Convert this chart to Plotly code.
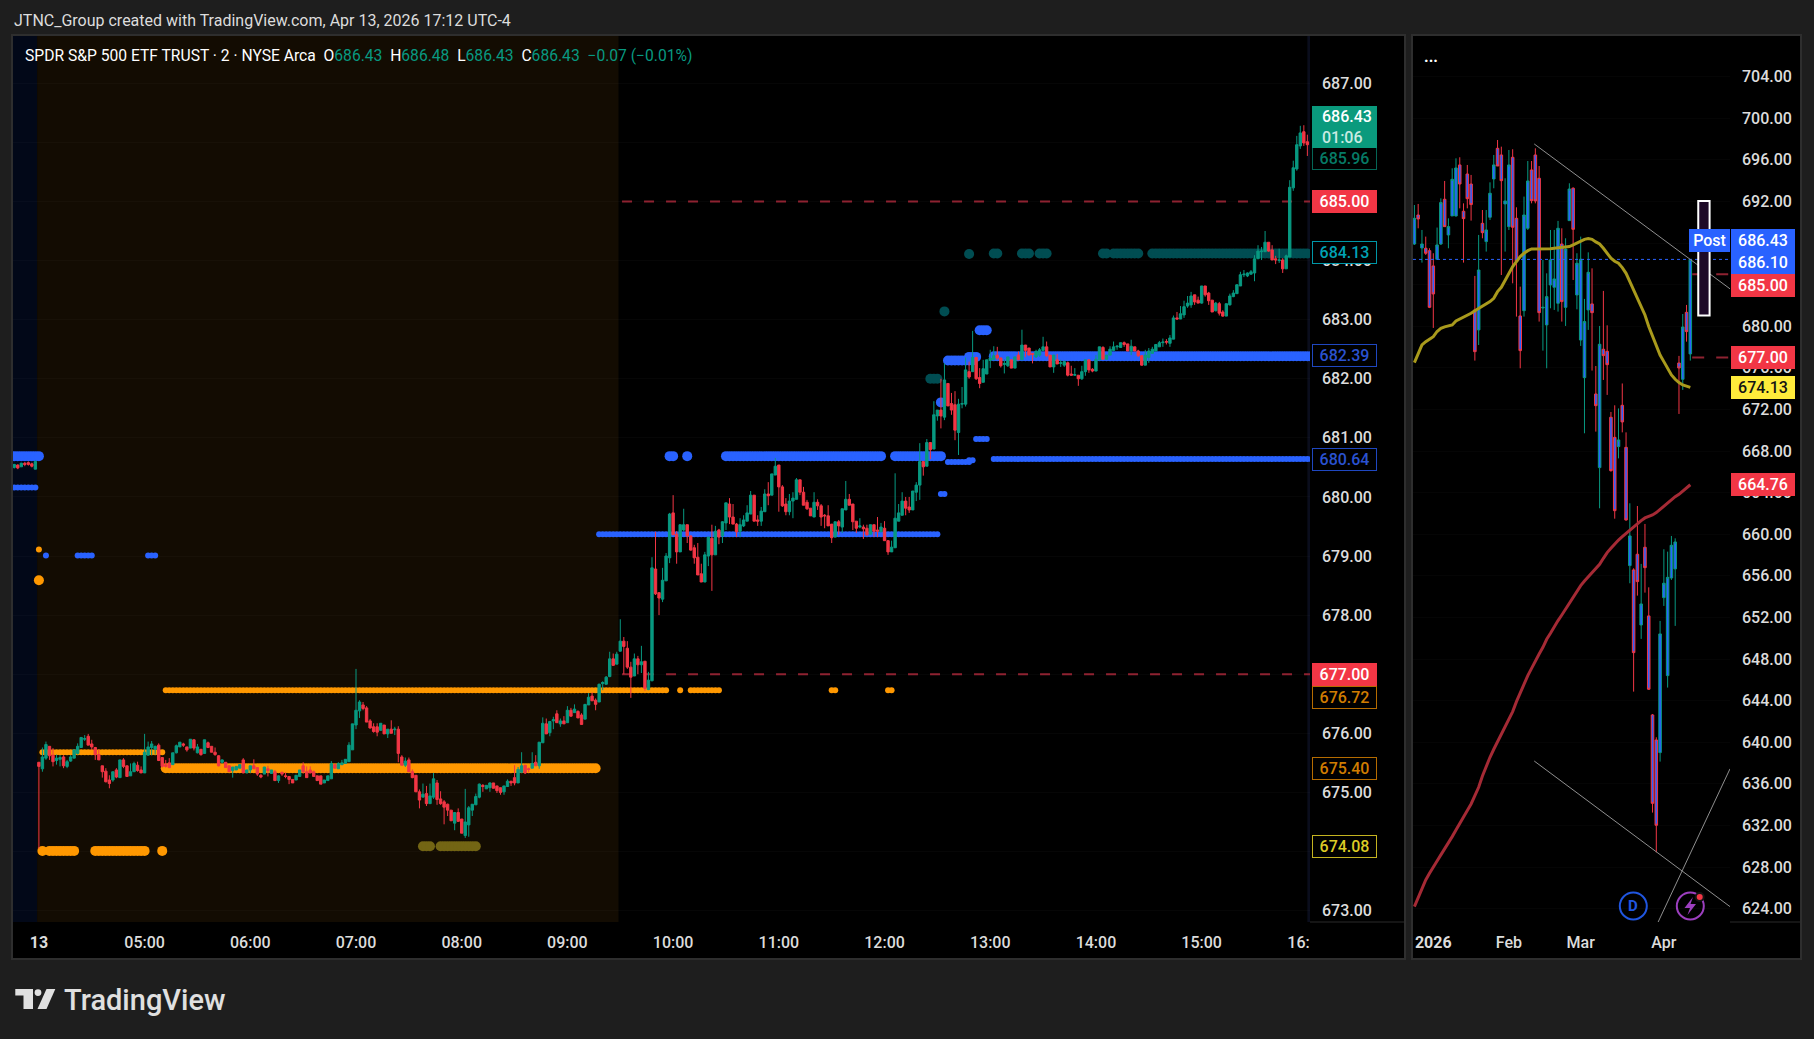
import pandas as pd
import plotly.graph_objects as go

# ---------- intraday SPY, 2-minute bars; bar 0 = 04:00, first value is bar -7 ----------
FIRST_BAR = -7
OPEN = [680.50,680.54,680.51,680.57,680.58,680.56,680.47,
675.51,675.40,675.58,675.78,675.63,675.54,675.56,675.60,675.44,675.53,
675.58,675.66,675.76,675.90,675.95,675.82,675.76,675.64,675.45,675.36,
675.21,675.21,675.38,675.25,675.55,675.45,675.28,675.35,675.46,675.38,
675.33,675.63,675.76,675.73,675.80,675.59,675.47,675.50,675.47,675.67,
675.77,675.82,675.77,675.75,675.89,675.67,675.73,675.66,675.84,675.78,
675.68,675.62,675.51,675.51,675.45,675.37,675.38,675.41,675.55,675.33,
675.38,675.45,675.42,675.29,675.31,675.40,675.32,675.35,675.20,675.34,
675.28,675.27,675.22,675.21,675.27,675.45,675.35,675.38,675.35,675.28,
675.28,675.16,675.20,675.23,675.47,675.40,675.47,675.49,675.52,675.72,
676.14,676.38,676.48,676.43,676.21,676.11,676.11,676.05,676.14,675.99,
676.07,676.06,676.07,675.60,675.46,675.55,675.35,675.29,675.01,674.92,
674.98,674.81,674.92,675.16,674.89,674.84,674.80,674.70,674.48,674.66,
674.55,674.27,674.45,674.70,674.79,674.92,675.12,675.06,675.08,675.16,
675.11,675.08,675.01,675.10,675.19,675.25,675.16,675.34,675.46,675.40,
675.41,675.51,675.45,675.84,676.16,676.01,676.21,676.33,676.16,676.21,
676.18,676.39,676.35,676.37,676.31,676.24,676.48,676.63,676.56,676.53,
676.84,676.83,676.96,677.26,677.17,677.39,677.56,677.44,677.12,676.97,
677.26,677.16,677.22,676.74,676.89,678.78,678.38,678.27,678.58,678.97,
679.73,679.37,679.07,679.44,679.53,679.34,679.14,678.98,678.70,678.56,
679.00,679.30,679.02,679.44,679.34,679.56,679.88,679.66,679.54,679.42,
679.51,679.59,679.71,680.03,679.61,679.59,679.75,680.05,680.03,680.37,
680.54,680.17,679.88,679.75,679.93,679.96,680.29,680.08,679.91,679.81,
679.66,679.91,679.85,679.69,679.68,679.54,679.32,679.58,679.49,679.78,
679.96,679.88,679.59,679.49,679.49,679.47,679.37,679.53,679.44,679.41,
679.47,679.26,679.07,679.14,679.59,679.69,679.93,679.83,679.78,680.08,
680.20,680.60,680.52,680.92,680.81,681.37,681.47,681.35,681.92,681.58,
681.56,681.09,681.57,681.57,682.12,682.12,682.36,682.02,681.94,682.08,
682.31,682.32,682.40,682.35,682.24,682.22,682.32,682.18,682.40,682.32,
682.57,682.52,682.43,682.37,682.40,682.48,682.54,682.40,682.20,682.32,
682.26,682.23,682.27,682.08,682.06,682.06,682.00,682.12,682.32,682.16,
682.13,682.32,682.53,682.33,682.40,682.48,682.54,682.53,682.61,682.59,
682.47,682.54,682.47,682.39,682.23,682.36,682.43,682.47,682.54,682.61,
682.63,682.60,682.67,683.03,683.01,683.08,683.23,683.25,683.42,683.33,
683.28,683.57,683.45,683.33,683.15,683.27,683.13,683.06,683.25,683.39,
683.44,683.57,683.76,683.74,683.77,683.79,684.03,684.15,684.15,684.31,
684.18,684.03,684.00,684.01,683.86,684.06,685.23,685.55,685.94,686.18,686.01]
HIGH = [680.56,680.55,680.58,680.59,680.60,680.58,680.62,
675.51,675.76,675.86,675.78,675.75,675.64,675.63,675.63,675.55,675.63,
675.72,675.83,675.93,675.97,675.99,675.89,675.77,675.73,675.45,675.41,
675.29,675.35,675.41,675.55,675.58,675.45,675.49,675.52,675.52,675.44,
675.99,675.86,675.87,675.79,675.83,675.60,675.55,675.58,675.67,675.81,
675.85,675.84,675.77,675.90,675.90,675.82,675.73,675.89,675.86,675.78,
675.76,675.63,675.56,675.51,675.45,675.43,675.44,675.47,675.58,675.38,
675.45,675.56,675.42,675.31,675.43,675.45,675.38,675.38,675.29,675.35,
675.34,675.27,675.22,675.29,675.38,675.51,675.44,675.44,675.37,675.28,
675.28,675.21,675.28,675.53,675.47,675.51,675.55,675.56,675.85,676.16,
677.09,676.56,676.53,676.46,676.24,676.17,676.17,676.17,676.14,676.07,
676.22,676.11,676.12,675.63,675.59,675.59,675.39,675.29,675.05,675.15,
675.11,675.15,675.33,675.21,675.02,674.87,674.81,674.70,674.66,674.73,
674.55,675.06,674.77,674.80,674.98,675.15,675.14,675.12,675.17,675.16,
675.11,675.08,675.11,675.22,675.19,675.46,675.43,675.68,675.46,675.42,
675.68,675.63,675.85,676.27,676.25,676.21,676.28,676.39,676.25,676.29,
676.46,676.43,676.49,676.39,676.34,676.49,676.68,676.69,676.59,676.84,
676.88,676.97,677.38,677.35,677.38,677.93,677.63,677.56,677.21,677.35,
677.31,677.48,677.22,677.04,678.98,679.41,678.38,678.80,679.05,679.73,
680.03,679.42,679.53,679.80,679.53,679.35,679.19,679.22,678.87,679.07,
679.32,679.53,679.51,679.46,679.59,679.90,679.98,679.88,679.56,679.64,
679.69,679.86,680.10,680.03,679.69,679.83,680.13,680.25,680.39,680.66,
680.54,680.20,679.98,680.05,680.08,680.32,680.29,680.17,679.95,679.81,
680.08,679.96,679.88,679.71,679.86,679.54,679.58,679.61,679.80,680.27,
680.05,679.88,679.59,679.64,679.53,679.53,679.53,679.53,679.66,679.56,
679.59,679.27,679.26,680.40,679.88,680.08,680.00,680.00,680.10,680.25,
680.91,680.60,680.98,680.92,681.62,681.47,682.00,682.26,681.92,681.76,
681.79,681.66,681.86,682.36,682.29,682.81,682.37,682.18,682.32,682.32,
682.49,682.55,682.54,682.36,682.33,682.37,682.32,682.37,682.46,682.83,
682.57,682.52,682.43,682.49,682.52,682.71,682.63,682.40,682.40,682.42,
682.32,682.31,682.29,682.22,682.18,682.06,682.22,682.32,682.32,682.18,
682.40,682.54,682.55,682.40,682.55,682.63,682.57,682.61,682.63,682.59,
682.66,682.54,682.49,682.40,682.49,682.52,682.54,682.58,682.64,682.68,
682.67,682.74,683.07,683.13,683.23,683.32,683.40,683.47,683.42,683.39,
683.57,683.57,683.47,683.33,683.30,683.30,683.16,683.27,683.44,683.50,
683.60,683.81,683.84,683.80,683.84,684.09,684.26,684.23,684.50,684.31,
684.26,684.08,684.20,684.04,684.10,685.36,685.69,686.11,686.28,686.29,686.13]
LOW = [680.48,680.47,680.51,680.52,680.53,680.50,680.47,
674.05,675.35,675.55,675.55,675.44,675.47,675.44,675.41,675.41,675.52,
675.58,675.64,675.76,675.87,675.80,675.72,675.55,675.55,675.25,675.17,
675.07,675.18,675.24,675.25,675.41,675.27,675.28,675.35,675.35,675.33,
675.33,675.63,675.63,675.64,675.53,675.42,675.42,675.41,675.47,675.66,
675.77,675.77,675.69,675.75,675.71,675.66,675.62,675.66,675.75,675.68,
675.62,675.44,675.49,675.42,675.35,675.25,675.38,675.41,675.33,675.33,
675.33,675.40,675.28,675.24,675.31,675.27,675.32,675.20,675.16,675.28,
675.24,675.14,675.16,675.21,675.27,675.32,675.25,675.33,675.27,675.20,
675.14,675.16,675.20,675.23,675.41,675.40,675.46,675.49,675.52,675.72,
676.07,676.26,676.39,676.19,676.08,676.01,675.95,676.05,675.99,675.92,
676.00,675.97,675.51,675.46,675.43,675.35,675.24,675.01,674.73,674.92,
674.77,674.81,674.89,674.79,674.79,674.46,674.60,674.52,674.36,674.50,
674.31,674.23,674.25,674.60,674.79,674.90,675.01,675.06,675.01,675.07,
674.99,674.96,674.96,675.10,675.11,675.12,675.16,675.34,675.31,675.34,
675.41,675.45,675.40,675.84,675.99,675.95,676.07,676.18,676.11,676.16,
676.18,676.28,676.35,676.26,676.15,676.24,676.48,676.55,676.39,676.53,
676.73,676.83,676.95,677.14,677.17,677.38,677.00,677.09,676.60,676.97,
677.00,677.02,676.72,676.73,676.88,678.34,678.00,678.22,678.58,678.88,
679.36,678.87,679.07,679.42,679.22,679.09,678.87,678.68,678.56,678.56,
678.83,678.41,679.02,679.20,679.22,679.44,679.54,679.54,679.32,679.32,
679.49,679.59,679.71,679.59,679.51,679.51,679.75,679.86,680.03,680.37,
679.75,679.83,679.69,679.69,679.64,679.96,680.03,679.86,679.78,679.68,
679.66,679.78,679.51,679.47,679.51,679.22,679.32,679.36,679.39,679.78,
679.86,679.44,679.39,679.47,679.29,679.34,679.37,679.32,679.32,679.41,
679.26,679.02,679.07,679.14,679.59,679.69,679.69,679.73,679.78,679.93,
679.95,680.36,680.52,680.64,680.81,681.29,681.16,681.30,681.54,681.39,
680.96,680.71,681.50,681.53,682.00,682.12,681.98,681.84,681.94,682.08,
682.18,682.32,682.32,682.19,682.09,682.20,682.18,682.18,682.32,682.32,
682.37,682.40,682.26,682.35,682.37,682.48,682.37,682.20,682.10,682.25,
682.20,682.20,682.04,682.05,682.05,681.88,681.98,682.05,682.10,682.11,
682.13,682.32,682.33,682.33,682.40,682.48,682.49,682.53,682.54,682.47,
682.40,682.47,682.37,682.22,682.23,682.27,682.43,682.47,682.54,682.54,
682.58,682.54,682.67,683.00,683.01,683.03,683.20,683.20,683.25,683.28,
683.27,683.39,683.25,683.13,683.14,683.07,683.05,683.06,683.24,683.38,
683.44,683.57,683.72,683.72,683.76,683.65,684.03,684.01,684.15,684.15,
684.01,683.94,683.96,683.79,683.86,684.06,685.18,685.52,685.89,685.94,685.77]
CLOSE = [680.55,680.49,680.57,680.55,680.55,680.52,680.60,
675.44,675.60,675.81,675.62,675.52,675.58,675.59,675.45,675.52,675.60,
675.72,675.78,675.93,675.91,675.80,675.77,675.64,675.55,675.35,675.18,
675.15,675.35,675.26,675.55,675.44,675.27,675.35,675.49,675.37,675.33,
675.68,675.77,675.82,675.78,675.54,675.44,675.44,675.42,675.67,675.79,
675.85,675.80,675.72,675.90,675.75,675.77,675.64,675.89,675.76,675.68,
675.64,675.45,675.55,675.42,675.35,675.43,675.44,675.47,675.33,675.38,
675.45,675.40,675.31,675.26,675.43,675.37,675.38,675.20,675.28,675.31,
675.27,675.22,675.16,675.29,675.38,675.35,675.25,675.33,675.27,675.20,
675.14,675.21,675.28,675.49,675.41,675.49,675.50,675.56,675.80,676.16,
676.39,676.53,676.42,676.19,676.09,676.03,676.02,676.17,675.99,676.07,
676.00,676.07,675.66,675.46,675.53,675.35,675.25,675.01,674.87,674.97,
674.81,674.94,675.23,674.88,674.81,674.75,674.70,674.52,674.66,674.51,
674.31,674.50,674.74,674.80,674.93,675.14,675.10,675.12,675.16,675.07,
675.03,675.00,675.11,675.19,675.16,675.16,675.39,675.45,675.33,675.39,
675.49,675.45,675.85,676.17,675.99,676.20,676.23,676.18,676.21,676.16,
676.39,676.29,676.41,676.26,676.15,676.49,676.61,676.55,676.49,676.83,
676.86,676.95,677.26,677.15,677.34,677.56,677.47,677.12,676.95,677.26,
677.16,677.21,676.76,676.90,678.80,678.36,678.29,678.59,679.00,679.71,
679.36,679.07,679.53,679.53,679.34,679.10,678.97,678.68,678.56,679.02,
679.32,679.02,679.42,679.32,679.58,679.90,679.66,679.54,679.41,679.53,
679.61,679.73,680.03,679.59,679.59,679.76,680.05,680.02,680.39,680.52,
680.17,679.85,679.75,679.93,679.98,680.29,680.08,679.86,679.80,679.68,
679.91,679.85,679.66,679.68,679.51,679.31,679.58,679.51,679.80,679.96,
679.86,679.58,679.47,679.51,679.46,679.36,679.53,679.42,679.42,679.49,
679.26,679.07,679.15,679.64,679.73,679.93,679.81,679.78,680.10,680.20,
680.60,680.51,680.92,680.80,681.39,681.47,681.37,681.98,681.54,681.47,
681.13,681.57,681.58,682.15,682.03,682.36,682.00,681.92,682.17,682.32,
682.35,682.39,682.35,682.22,682.26,682.37,682.18,682.37,682.32,682.57,
682.48,682.40,682.41,682.46,682.49,682.54,682.39,682.20,682.40,682.25,
682.27,682.29,682.06,682.06,682.07,682.00,682.12,682.32,682.15,682.13,
682.33,682.54,682.33,682.40,682.50,682.54,682.55,682.61,682.58,682.47,
682.55,682.47,682.39,682.23,682.40,682.47,682.50,682.58,682.61,682.62,
682.62,682.69,683.03,683.01,683.10,683.22,683.28,683.40,683.30,683.28,
683.57,683.42,683.32,683.13,683.28,683.11,683.06,683.27,683.40,683.45,
683.59,683.76,683.77,683.79,683.81,684.03,684.16,684.16,684.31,684.16,
684.01,684.01,684.01,683.86,684.08,685.24,685.57,685.96,686.16,685.99,685.96]

# indicator dot rows: (first bar, last bar, price)
ORANGE_THICK = [(36,158,675.41),(1,1,674.01),(3,10,674.01),(16,30,674.01),(35,35,674.01),(0,0,678.59)]
ORANGE_THIN = [(36,178,676.73),(182,182,676.73),(185,193,676.73),(225,226,676.73),(241,242,676.73),(1,35,675.68),(0,0,679.11)]
BLUE_THICK = [(-7,0,680.69),(179,180,680.69),(184,184,680.69),(195,239,680.69),(243,256,680.69),
              (267,269,682.82),(258,265,682.31),(264,266,682.37),(271,361,682.38),(256,256,681.60)]
BLUE_THIN = [(271,361,680.64),(258,264,680.59),(264,265,680.62),(266,269,680.98),(256,257,680.05),
             (159,255,679.37),(2,2,679.01),(11,15,679.01),(31,33,679.01),(-7,-1,680.16)]
TEAL_THICK = [(253,255,682.00),(257,257,683.14),(264,264,684.11),(271,272,684.12),(279,281,684.12),
              (284,286,684.12),(302,303,684.12),(305,312,684.12),(316,360,684.12)]
OLIVE_THICK = [(109,111,674.09),(114,124,674.09)]
DASHED_LEVELS = [685.0, 677.0]

LEFT_TICKS = [673,674,675,676,677,678,679,680,681,682,683,684,685,686,687]
LEFT_TIME_TICKS = ["04:00","05:00","06:00","07:00","08:00","09:00","10:00","11:00","12:00","13:00","14:00","15:00","15:55"]
LEFT_TIME_TEXT = ["<b>13</b>","05:00","06:00","07:00","08:00","09:00","10:00","11:00","12:00","13:00","14:00","15:00","16:"]

# ---------- daily SPY ----------
D_OPEN = [687.91,690.70,687.53,687.50,687.27,685.80,686.44,687.91,692.21,688.78,690.61,690.61,695.51,691.06,694.64,693.68,681.57,679.65,689.90,688.14,690.48,694.16,697.11,696.47,691.76,689.58,696.25,690.38,680.99,681.50,689.42,695.03,696.47,694.23,681.76,680.13,683.97,683.75,682.21,687.91,681.82,690.16,693.27,683.01,678.68,675.06,681.57,682.15,673.49,666.41,677.79,677.59,671.25,669.32,668.43,672.40,668.36,656.99,656.57,658.08,651.28,658.75,652.15,642.63,640.22,639.01,653.91,646.41,655.80,656.67,676.47,674.90,681.34,677.34]
D_HIGH = [691.66,691.76,689.26,688.62,687.50,687.02,689.49,692.30,693.97,690.38,695.19,696.15,696.25,691.82,695.51,694.55,684.84,688.78,691.18,691.18,693.84,696.47,697.91,697.27,694.23,696.95,697.02,691.44,683.81,692.47,695.89,695.89,697.11,695.41,686.38,685.09,689.26,689.26,690.13,689.42,688.46,693.75,693.36,687.02,688.62,682.63,687.11,685.57,676.18,680.03,683.40,680.09,671.76,672.40,672.10,674.50,669.80,662.98,656.73,662.72,657.15,660.99,654.90,642.72,640.48,651.67,658.56,658.33,659.84,659.61,677.15,681.18,682.05,686.44]
D_LOW = [687.82,689.42,686.12,686.86,681.75,679.84,686.44,687.82,689.58,687.50,690.61,690.54,691.34,686.12,691.34,690.16,676.70,678.20,688.46,687.18,690.22,693.27,695.41,684.93,687.18,689.26,684.13,680.93,675.96,680.93,689.26,691.82,691.82,680.45,677.66,675.96,681.73,681.57,681.41,680.45,680.03,690.16,684.45,681.63,678.11,669.71,679.65,675.74,669.87,662.50,674.84,673.40,666.02,661.50,667.30,669.80,661.30,655.29,644.87,654.10,649.94,654.39,645.03,633.24,629.42,638.14,653.11,645.26,655.61,651.19,671.57,673.88,678.52,676.70]
D_CLOSE = [690.38,690.32,687.91,687.02,681.82,683.11,687.82,691.89,689.58,689.58,694.13,695.22,693.68,690.35,692.27,691.70,677.56,685.41,689.00,689.26,692.79,695.51,695.41,694.00,692.05,695.51,689.52,686.22,677.66,690.70,693.97,692.08,692.05,681.31,681.82,682.85,686.38,684.55,689.42,682.37,687.43,693.20,689.32,686.06,686.44,680.45,685.19,681.31,672.37,678.27,677.18,676.31,666.12,662.27,669.07,670.80,661.38,659.84,648.62,655.45,653.30,656.79,645.10,634.13,632.02,650.42,655.29,655.86,658.94,659.26,675.99,679.93,679.49,686.43]
MA_YELLOW = [676.5,677.3,678.2,678.52,678.75,679.0,679.5,679.8,679.94,680.0,680.13,680.51,680.7,680.86,681.0,681.25,681.5,681.73,681.98,682.14,682.37,682.69,683.33,683.75,684.45,685.09,685.74,686.22,686.7,687.02,687.27,687.43,687.43,687.4,687.43,687.43,687.46,687.5,687.53,687.56,687.6,687.66,687.82,687.98,688.14,688.36,688.43,688.36,688.11,687.91,687.5,687.02,686.54,686.25,686.06,685.64,685.09,684.29,683.49,682.85,681.89,681.09,679.97,679.0,678.04,677.24,676.6,675.96,675.32,674.9,674.58,674.36,674.26,674.13]
MA_RED = [624.2,625.1,625.9,626.76,627.4,628.05,628.59,629.17,629.74,630.29,630.93,631.57,632.15,632.79,633.43,634.07,634.94,635.67,636.76,637.72,638.56,639.33,640.06,640.8,641.51,642.24,642.95,643.91,644.78,645.61,646.41,647.11,647.85,648.49,649.13,649.9,650.48,651.12,651.7,652.24,652.82,653.43,654.0,654.58,655.06,655.51,655.93,656.31,656.73,657.11,657.69,658.24,658.65,659.07,659.45,659.77,660.09,660.42,660.67,660.99,661.31,661.57,661.7,661.86,662.08,662.4,662.66,662.98,663.3,663.62,663.84,664.16,664.49,664.76]
# trend lines: (bar a, price a, bar b, price b)
TREND_LINES = [(31.7,697.53,83.5,683.6),(31.7,638.2,83.5,624.2),(64.4,622.65,83.5,637.45)]
RIGHT_TICKS = list(range(624,708,4))
RIGHT_TIME_TICKS = [5,25,44,66]
RIGHT_TIME_TEXT = ["<b>2026</b>","Feb","Mar","Apr"]
LAST_PRICE = 686.43
# ---------- labels: text, price ----------
LEFT_LABELS = [("685.96",685.96,"#000000","#056656","#067a66",13.7),("685.00",685.0,"#f23645","#f23645","#ffffff",0),
               ("684.13",684.13,"#000000","#0097a7","#00a3b5",0),("682.39",682.39,"#000000","#1f47c0","#2a52d0",-1),
               ("680.64",680.64,"#000000","#1f47c0","#2a52d0",-1),("677.00",677.0,"#f23645","#f23645","#ffffff",0),
               ("676.72",676.72,"#000000","#b56c00","#d07d00",7),("675.40",675.4,"#000000","#b56c00","#d07d00",0),
               ("674.08",674.08,"#000000","#c4b320","#dccb25",0)]
RIGHT_LABELS = [("686.43",686.43,"#2962ff","#2962ff","#ffffff",-18.4),("686.10",686.1,"#2962ff","#2962ff","#ffffff",0),
                ("685.00",685.0,"#f23645","#f23645","#ffffff",11.4),("677.00",677.0,"#f23645","#f23645","#ffffff",0),
                ("674.13",674.13,"#ffeb3b","#ffeb3b","#131313",0),("664.76",664.76,"#f23645","#f23645","#ffffff",0)]

# ---------- layout helpers ----------
W, H = 1814, 1039
GREEN, RED, DARKRED = "#089981", "#f23645", "#8e2231"
BG, TXT = "#1e1e1e", "#dcdcdc"
FONT = "Roboto"
def px(x): return x / W
def py(y): return 1 - y / H
T0 = pd.Timestamp("2026-04-13 04:00")
def bar_time(i): return T0 + pd.Timedelta(minutes=2 * i)
def clock(s): return pd.Timestamp("2026-04-13 " + s)

LX = [13, 1310]; RX = [1413, 1730]; TOP, BOT = 36, 922
L_RANGE_X = [clock("03:45:18"), clock("16:01:30")]
L_RANGE_Y = [672.807, 687.80]
R_RANGE_X = [-0.37, 83.5]
R_RANGE_Y = [622.72, 707.91]

fig = go.Figure()

def dots(rows, color, size):
    xs, ys = [], []
    for a, b, p in rows:
        for i in range(a, b + 1):
            xs.append(bar_time(i)); ys.append(p)
        xs.append(None); ys.append(None)
    fig.add_trace(go.Scatter(x=xs, y=ys, mode="markers", xaxis="x", yaxis="y", hoverinfo="skip",
                             marker=dict(color=color, size=size, line=dict(width=0))))

for level in DASHED_LEVELS:
    fig.add_trace(go.Scatter(x=[clock("09:31"), L_RANGE_X[1]], y=[level, level], mode="lines", xaxis="x", yaxis="y",
                             hoverinfo="skip", line=dict(color=DARKRED, width=2, dash="10px,12px")))
dots(ORANGE_THICK, "#ff9800", 10)
dots(ORANGE_THIN, "#ff9800", 6)
dots(BLUE_THICK, "#2962ff", 10)
dots(BLUE_THIN, "#2962ff", 6)
dots(TEAL_THICK, "#004d52", 10)
dots(OLIVE_THICK, "#736514", 10)

times = [bar_time(FIRST_BAR + k) for k in range(len(OPEN))]
fig.add_trace(go.Candlestick(x=times, open=OPEN, high=HIGH, low=LOW, close=CLOSE, xaxis="x2", yaxis="y2",
                             whiskerwidth=0, hoverinfo="skip",
                             increasing=dict(line=dict(color=GREEN, width=1), fillcolor=GREEN),
                             decreasing=dict(line=dict(color=RED, width=1), fillcolor=RED)))

# right panel
days = list(range(len(D_OPEN)))
fig.add_trace(go.Candlestick(x=days, open=D_OPEN, high=D_HIGH, low=D_LOW, close=D_CLOSE, xaxis="x3", yaxis="y3",
                             whiskerwidth=0, hoverinfo="skip",
                             increasing=dict(line=dict(color=GREEN, width=1), fillcolor="#2962ff"),
                             decreasing=dict(line=dict(color=RED, width=1), fillcolor="#2962ff")))
fig.add_trace(go.Scatter(x=[R_RANGE_X[0], R_RANGE_X[1]], y=[LAST_PRICE, LAST_PRICE], mode="lines", xaxis="x3", yaxis="y3",
                         hoverinfo="skip", line=dict(color="#2962ff", width=1, dash="dot")))
fig.add_trace(go.Scatter(x=days, y=MA_YELLOW, mode="lines", xaxis="x3", yaxis="y3", hoverinfo="skip",
                         line=dict(color="#a99a1c", width=3)))
fig.add_trace(go.Scatter(x=days, y=MA_RED, mode="lines", xaxis="x3", yaxis="y3", hoverinfo="skip",
                         line=dict(color="#a52a35", width=3)))
for xa, ya, xb, yb in TREND_LINES:
    fig.add_trace(go.Scatter(x=[xa, xb], y=[ya, yb], mode="lines", xaxis="x3", yaxis="y3", hoverinfo="skip",
                             line=dict(color="#8f8f8f", width=1)))
for level, start in ((685.0, 73.5), (677.0, 73.5)):
    fig.add_trace(go.Scatter(x=[start, R_RANGE_X[1]], y=[level, level], mode="lines", xaxis="x3", yaxis="y3",
                             hoverinfo="skip", line=dict(color=DARKRED, width=2, dash="12px,12px")))

# ---------- shapes ----------
shapes = []
def paper_rect(x0, y0, x1, y1, fill, line=None, lw=0, layer="below"):
    shapes.append(dict(type="rect", xref="paper", yref="paper", x0=px(x0), x1=px(x1), y0=py(y0), y1=py(y1),
                       fillcolor=fill, line=dict(color=line or fill, width=lw), layer=layer))
paper_rect(12, 35, 1405, 959, "#000000", "#2e2e2e", 2)
paper_rect(1412, 35, 1801, 959, "#000000", "#2e2e2e", 2)
# session shading
for a, b, c in ((L_RANGE_X[0], clock("03:59"), "#020818"), (clock("03:59"), clock("09:29"), "#130c02"), (clock("16:00"), L_RANGE_X[1], "#0a0d1c")):
    shapes.append(dict(type="rect", xref="x", yref="y domain", x0=a, x1=b, y0=0, y1=1, fillcolor=c, line=dict(width=0), layer="below"))
for a, b in ((1310, 1404), (1730, 1800)):
    shapes.append(dict(type="line", xref="paper", yref="paper", x0=px(a), x1=px(b), y0=py(BOT), y1=py(BOT), line=dict(color="#2a2a2a", width=1)))
# Post box
shapes.append(dict(type="rect", xref="x3", yref="y3", x0=75.1, x1=78.1, y0=681.03, y1=692.05, fillcolor="#1e0a28", line=dict(color="#ffffff", width=2), layer="above"))
# D and lightning badges
def circle(cx, cy, r, fill, line, lw):
    shapes.append(dict(type="circle", xref="paper", yref="paper", x0=px(cx - r), x1=px(cx + r), y0=py(cy - r), y1=py(cy + r),
                       fillcolor=fill, line=dict(color=line, width=lw), layer="above"))
def poly(points, fill):
    d = "M " + " L ".join(f"{px(a):.5f} {py(b):.5f}" for a, b in points) + " Z"
    shapes.append(dict(type="path", xref="paper", yref="paper", path=d, fillcolor=fill, line=dict(width=0), layer="above"))
circle(1633.3, 906, 13.5, "rgba(0,0,0,0)", "#2056e0", 2)
circle(1690.3, 906, 13.5, "rgba(0,0,0,0)", "#9c3fbf", 2)
poly([(1693, 897), (1684.5, 908), (1690, 908), (1687.5, 915), (1696, 904), (1690.5, 904)], "#9c3fbf")
circle(1699.7, 897, 4, RED, "#131313", 2)
# TradingView logo
poly([(15.3, 989), (33, 989), (33, 1009), (23.5, 1009), (23.5, 995.5), (15.3, 995.5)], "#e0e0e0")
circle(38, 992.6, 3.4, "#e0e0e0", "#e0e0e0", 0)
poly([(46.5, 989), (55.3, 989), (46.5, 1009), (37.5, 1009)], "#e0e0e0")

# ---------- annotations ----------
ann = []
def text(x, y, s, size=15.5, color=TXT, anchor="left", weight=None):
    font = dict(family=FONT, size=size, color=color)
    if weight:
        font["weight"] = weight
    ann.append(dict(xref="paper", yref="paper", x=px(x), y=py(y), text=s, showarrow=False, xanchor=anchor, yanchor="middle", font=font))
text(12, 20, "JTNC_Group created with TradingView.com, Apr 13, 2026 17:12 UTC-4", 16)
g = lambda s: f'<span style="color:{GREEN}">{s}</span>'
text(22.5, 55.5, "SPDR S&amp;P 500 ETF TRUST · 2 · NYSE Arca  O" + g("686.43") + "  H" + g("686.48") + "  L" + g("686.43") + "  C" + g("686.43") + "  " + g("−0.07 (−0.01%)"), 15.65, "#ffffff")
text(62, 1000, "TradingView", 29, "#e0e0e0", weight=500)
text(1422, 56, "<b>...</b>", 16, "#ffffff")
text(1633.3, 906, "<b>D</b>", 15, "#2056e0", "center")

def box_label(xc, w, yref, s, price, fill, border, color, shift):
    ann.append(dict(xref="paper", x=px(xc), yref=yref, y=price, yshift=shift, text=s, showarrow=False, xanchor="center", yanchor="middle",
                    width=w, height=19, align="center", valign="middle", bgcolor=fill, bordercolor=border, borderwidth=1, borderpad=1,
                    font=dict(family=FONT, size=16, color=color, weight=500)))
for s, p, fill, border, color, shift in LEFT_LABELS:
    box_label(1344.5, 61, "y", s, p, fill, border, color, -shift if shift > 0 else 0)
for s, p, fill, border, color, shift in RIGHT_LABELS:
    box_label(1763, 60, "y3", s, p, fill, border, color, -shift)
box_label(1709.5, 37, "y3", "Post", 686.43, "#2962ff", "#2962ff", "#ffffff", 18.4)
ann.append(dict(xref="paper", x=px(1344.5), yref="y", y=686.43, yanchor="top", yshift=11, xanchor="center", showarrow=False,
                text='  686.43<br>  <span style="color:#c9ebe3">01:06</span>', width=61, height=38, align="left", bgcolor="#0a9a7d", bordercolor="#0a9a7d",
                borderwidth=1, borderpad=1, font=dict(family=FONT, size=16, color="#ffffff", weight=500)))

axis_font = dict(family=FONT, size=16, color=TXT, weight=500)
ldx = [px(LX[0]), px(LX[1])]; rdx = [px(RX[0]), px(RX[1])]; dy = [py(BOT), py(TOP)]
fig.update_layout(
    width=W, height=H, autosize=False, margin=dict(l=0, r=0, t=0, b=0), paper_bgcolor=BG, plot_bgcolor="#000000",
    showlegend=False, boxgap=0.25, boxgroupgap=0.1, shapes=shapes, annotations=ann, hovermode=False,
    xaxis=dict(domain=ldx, anchor="y", type="date", range=L_RANGE_X, tickmode="array", tickvals=[clock(t) for t in LEFT_TIME_TICKS],
               ticktext=LEFT_TIME_TEXT, showgrid=False, zeroline=False, showline=False, ticks="", tickfont=axis_font, ticklabelstandoff=9, rangeslider=dict(visible=False)),
    yaxis=dict(domain=dy, anchor="x", side="right", range=L_RANGE_Y, tickmode="array", tickvals=LEFT_TICKS, ticktext=[f"{v:.2f}" for v in LEFT_TICKS],
               showgrid=True, gridcolor="rgba(255,255,255,0.025)", gridwidth=1, zeroline=False, showline=False, ticks="", tickfont=axis_font, ticklabelstandoff=11),
    xaxis2=dict(domain=ldx, anchor="y2", overlaying="x", type="date", range=L_RANGE_X, visible=False, rangeslider=dict(visible=False)),
    yaxis2=dict(domain=dy, anchor="x2", overlaying="y", range=L_RANGE_Y, visible=False),
    xaxis3=dict(domain=rdx, anchor="y3", range=R_RANGE_X, tickmode="array", tickvals=RIGHT_TIME_TICKS, ticktext=RIGHT_TIME_TEXT,
                showgrid=False, zeroline=False, showline=False, ticks="", tickfont=axis_font, ticklabelstandoff=9, rangeslider=dict(visible=False)),
    yaxis3=dict(domain=dy, anchor="x3", side="right", range=R_RANGE_Y, tickmode="array", tickvals=RIGHT_TICKS, ticktext=[f"{v:.2f}" for v in RIGHT_TICKS],
                showgrid=True, gridcolor="rgba(255,255,255,0.02)", zeroline=False, showline=False, ticks="", tickfont=axis_font, ticklabelstandoff=11),
)
fig.write_html("out.html", config={"displayModeBar": False},
               post_script="document.body.style.margin='0';document.body.style.overflow='hidden';document.body.style.background='#1e1e1e';")
